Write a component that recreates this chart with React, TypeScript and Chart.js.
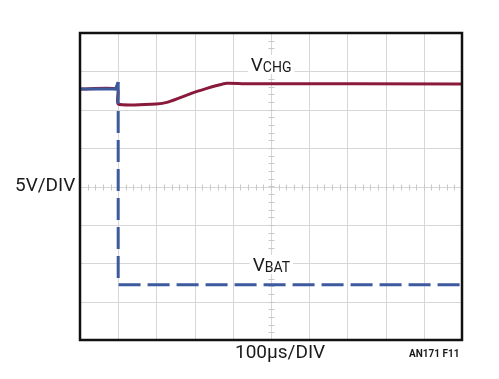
import React, { useEffect, useRef } from "react";
import { Chart, registerables } from "chart.js";

Chart.register(...registerables);

// time in divisions (100µs/DIV), voltage in divisions (5V/DIV), bottom = 0
const vbatX = [0, 0.93, 1.0, 1.0, 10];
const vbatY = [6.54, 6.54, 6.72, 1.44, 1.44];
const vchgX = [0, 0.98, 1.0, 2.0, 2.3, 2.95, 3.3, 3.58, 3.84, 4.3, 10];
const vchgY = [6.54, 6.54, 6.15, 6.15, 6.2, 6.44, 6.55, 6.63, 6.69, 6.68, 6.67];
const xDivs = [0, 1, 2, 3, 4, 5, 6, 7, 8, 9, 10];
const yDivs = [0, 1, 2, 3, 4, 5, 6, 7, 8];
const yLabel = "5V/DIV";
const xLabel = "100µs/DIV";
const figLabel = "AN171 F11";

const FONT = "'Liberation Sans Narrow', 'Roboto', 'Liberation Sans', sans-serif";

const scopePlugin = {
  id: "scope",
  beforeDatasetsDraw(chart: any) {
    const { ctx, chartArea: a, scales } = chart;
    const xs = scales.x, ys = scales.y;
    ctx.save();
    ctx.strokeStyle = "#d6d6d6";
    ctx.lineWidth = 1;
    xDivs.forEach((v) => {
      const px = Math.round(xs.getPixelForValue(v)) + 0.5;
      ctx.beginPath();
      ctx.moveTo(px, a.top);
      ctx.lineTo(px, a.bottom);
      ctx.stroke();
    });
    yDivs.forEach((v) => {
      const py = Math.round(ys.getPixelForValue(v)) + 0.5;
      ctx.beginPath();
      ctx.moveTo(a.left, py);
      ctx.lineTo(a.right, py);
      ctx.stroke();
    });
    // minor ticks on center lines
    ctx.strokeStyle = "#c8c8c8";
    const cx = Math.round(xs.getPixelForValue(5)) + 0.5;
    const cy = Math.round(ys.getPixelForValue(4)) + 0.5;
    for (let v = 0; v <= 8.001; v += 0.2) {
      const py = Math.round(ys.getPixelForValue(v)) + 0.5;
      ctx.beginPath();
      ctx.moveTo(cx - 3, py);
      ctx.lineTo(cx + 3, py);
      ctx.stroke();
    }
    for (let v = 0; v <= 10.001; v += 0.2) {
      const px = Math.round(xs.getPixelForValue(v)) + 0.5;
      ctx.beginPath();
      ctx.moveTo(px, cy - 3);
      ctx.lineTo(px, cy + 3);
      ctx.stroke();
    }
    // trace labels with white background
    const drawSub = (main: string, sub: string, xv: number, yv: number) => {
      const px = xs.getPixelForValue(xv);
      const py = ys.getPixelForValue(yv);
      ctx.font = `19px ${FONT}`;
      const w1 = ctx.measureText(main).width;
      ctx.font = `14px ${FONT}`;
      const w2 = ctx.measureText(sub).width;
      ctx.fillStyle = "#ffffff";
      ctx.fillRect(px - 3, py - 16, w1 + w2 + 6, 19);
      ctx.fillStyle = "#1a1a1a";
      ctx.textBaseline = "alphabetic";
      ctx.textAlign = "left";
      ctx.font = `19px ${FONT}`;
      ctx.fillText(main, px, py);
      ctx.font = `14px ${FONT}`;
      ctx.fillText(sub, px + w1, py + 1);
    };
    drawSub("V", "CHG", 4.47, 7.01);
    drawSub("V", "BAT", 4.52, 1.8);
    ctx.restore();
  },
  afterDraw(chart: any) {
    const { ctx, chartArea: a } = chart;
    ctx.save();
    ctx.strokeStyle = "#111111";
    ctx.lineWidth = 2.5;
    ctx.strokeRect(a.left, a.top, a.right - a.left, a.bottom - a.top);
    ctx.fillStyle = "#1a1a1a";
    ctx.textBaseline = "alphabetic";
    ctx.textAlign = "left";
    ctx.font = `19px ${FONT}`;
    ctx.fillText(yLabel, 15, 191);
    ctx.fillText(xLabel, 235, 358);
    ctx.font = `bold 10px ${FONT}`;
    ctx.fillText(figLabel, 409, 357);
    ctx.restore();
  },
};

export default function App() {
  const ref = useRef<HTMLCanvasElement>(null);
  useEffect(() => {
    if (!ref.current) return;
    const chart = new Chart(ref.current, {
      type: "line",
      data: {
        datasets: [
          {
            label: "VBAT",
            data: vbatX.map((x, i) => ({ x, y: vbatY[i] })),
            borderColor: "#3e5a9e",
            borderWidth: 3,
            borderDash: [22, 7],
            pointRadius: 0,
            tension: 0,
            fill: false,
            segment: {
              borderDash: (c: any) => (c.p0DataIndex < 2 ? [] : [22, 7]),
            },
          },
          {
            label: "VCHG",
            data: vchgX.map((x, i) => ({ x, y: vchgY[i] })),
            borderColor: "#8a1a3c",
            borderWidth: 3,
            pointRadius: 0,
            tension: 0.2,
            fill: false,
          },
        ],
      },
      options: {
        animation: false,
        responsive: false,
        layout: { padding: { left: 80, right: 37, top: 33, bottom: 39 } },
        plugins: { legend: { display: false }, tooltip: { enabled: false } },
        scales: {
          x: { type: "linear", min: 0, max: 10, display: false },
          y: { type: "linear", min: 0, max: 8, display: false },
        },
      },
      plugins: [scopePlugin],
    });
    return () => chart.destroy();
  }, []);
  return (
    <div style={{ position: "fixed", left: 0, top: 0, width: 499, height: 379, background: "#fff" }}>
      <canvas ref={ref} width={499} height={379} />
    </div>
  );
}
